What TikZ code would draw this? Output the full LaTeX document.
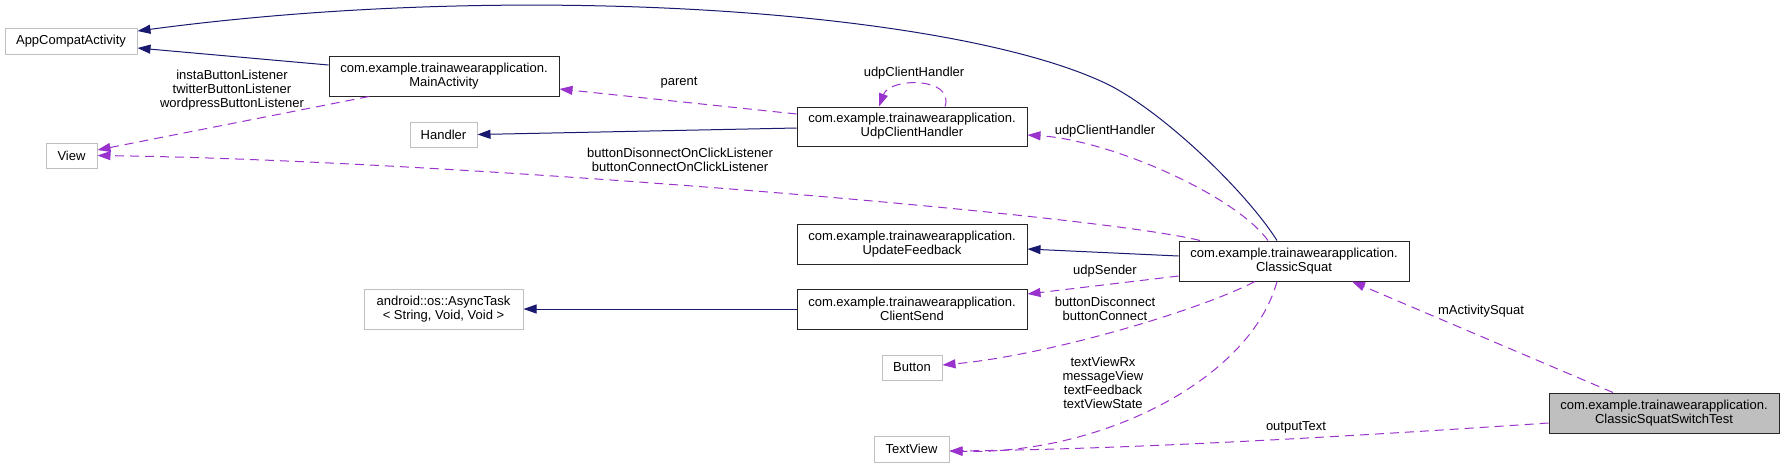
\documentclass[tikz,border=0pt]{standalone}
\usepackage{fontspec}
\setmainfont{Liberation Sans}
\usetikzlibrary{arrows.meta}
\definecolor{mblue}{HTML}{191970}
\definecolor{orchid}{HTML}{9A32CD}
\definecolor{greyS}{HTML}{BFBFBF}
\begin{document}
\begin{tikzpicture}[x=0.5pt,y=-0.5pt,
  font=\fontsize{6.5}{7}\selectfont,
  box/.style={draw, line width=0.5pt, fill=white, inner sep=0pt, align=center},
  ext/.style={box, draw=greyS},
  cls/.style={box, draw=black!85},
  tgt/.style={box, draw=black!85, fill=greyS},
  inh/.style={draw=mblue, line width=0.5pt, -{Triangle[length=6.5pt,width=4.5pt]}},
  use/.style={draw=orchid, line width=0.5pt, dash pattern=on 4.5pt off 3pt, -{Triangle[length=6.5pt,width=4.5pt]}},
  lbl/.style={align=center, inner sep=0pt}]
\useasboundingbox[fill=white] (0,0) rectangle (1784,468);

% nodes
\node[ext, minimum width=66pt, minimum height=13pt] (AC) at (71,41) {AppCompatActivity};
\node[cls, minimum width=115pt, minimum height=20pt] (MA) at (444,76) {com.example.trainawearapplication.\\MainActivity};
\node[ext, minimum width=33.5pt, minimum height=12.5pt] (H) at (443.5,134.5) {Handler};
\node[ext, minimum width=25.5pt, minimum height=12.5pt] (V) at (71.5,155.5) {View};
\node[cls, minimum width=115pt, minimum height=19.5pt] (UCH) at (912,126.5) {com.example.trainawearapplication.\\UdpClientHandler};
\node[cls, minimum width=115pt, minimum height=20pt] (UF) at (912,244) {com.example.trainawearapplication.\\UpdateFeedback};
\node[cls, minimum width=115pt, minimum height=20pt] (CS) at (1294,261) {com.example.trainawearapplication.\\ClassicSquat};
\node[cls, minimum width=115pt, minimum height=20pt] (CSD) at (912,309) {com.example.trainawearapplication.\\ClientSend};
\node[ext, minimum width=79.5pt, minimum height=20pt] (AT) at (443.5,309) {android::os::AsyncTask\\< String, Void, Void >};
\node[ext, minimum width=30pt, minimum height=12.5pt] (B) at (912,367.5) {Button};
\node[ext, minimum width=37.5pt, minimum height=13pt] (TV) at (911.5,449) {TextView};
\node[tgt, minimum width=115pt, minimum height=20pt] (CSST) at (1664,413) {com.example.trainawearapplication.\\ClassicSquatSwitchTest};

% inheritance edges
\draw[inh] ([xshift=-8.5pt]CS.north) .. controls (1245,190) and (1160,109) .. (1105,83)
  .. controls (950,10) and (520,-20) .. ([yshift=5pt]AC.east);
\draw[inh] ([yshift=5.5pt]MA.west) -- ([yshift=-3.5pt]AC.east);
\draw[inh] ([yshift=-0.75pt]UCH.west) -- (H.east);
\draw[inh] ([yshift=2.5pt]CS.west) -- ([yshift=-2.5pt]UF.east);
\draw[inh] (CSD.west) -- (AT.east);

% usage edges
\draw[use] ([xshift=-37.5pt]MA.south) -- ([yshift=2.75pt]V.east);
\draw[use] ([xshift=-47pt]CS.north) .. controls (1100,215) and (450,160) .. (V.east);
\draw[use] ([yshift=6.25pt]UCH.west) -- ([yshift=-6.5pt]MA.east);
\draw[use] ([xshift=16.5pt]UCH.north) .. controls (955,77) and (890,77) .. ([xshift=-16.5pt]UCH.north);
\draw[use] ([xshift=-13pt]CS.north) .. controls (1235,195) and (1110,140) .. ([yshift=-4.25pt]UCH.east);
\draw[use] ([yshift=-7.5pt]CS.west) -- ([yshift=7.5pt]CSD.east);
\draw[use] ([xshift=-19.5pt]CS.south) .. controls (1200,310) and (1050,355) .. ([yshift=1.25pt]B.east);
\draw[use] ([xshift=-8.5pt]CS.south) .. controls (1250,380) and (1100,455) .. ([yshift=-1pt]TV.east);
\draw[use] ([xshift=-25.5pt]CSST.north) -- ([xshift=29pt]CS.south);
\draw[use] ([yshift=-5pt]CSST.west) .. controls (1400,433) and (1150,449) .. ([yshift=-1pt]TV.east);

% labels
\node[lbl] (l1) at (232,90) {instaButtonListener\\twitterButtonListener\\wordpressButtonListener};
\node[lbl] (l2) at (679,83) {parent};
\node[lbl] (l3) at (914,73) {udpClientHandler};
\node[lbl] (l4) at (1105,131) {udpClientHandler};
\node[lbl] (l5) at (680,160) {buttonDisonnectOnClickListener\\buttonConnectOnClickListener};
\node[lbl] (l6) at (1105,271) {udpSender};
\node[lbl] (l7) at (1105,309) {buttonDisconnect\\buttonConnect};
\node[lbl] (l8) at (1103,383) {textViewRx\\messageView\\textFeedback\\textViewState};
\node[lbl] (l9) at (1296,427) {outputText};
\node[lbl] (l10) at (1481,311) {mActivitySquat};
\end{tikzpicture}
\end{document}
